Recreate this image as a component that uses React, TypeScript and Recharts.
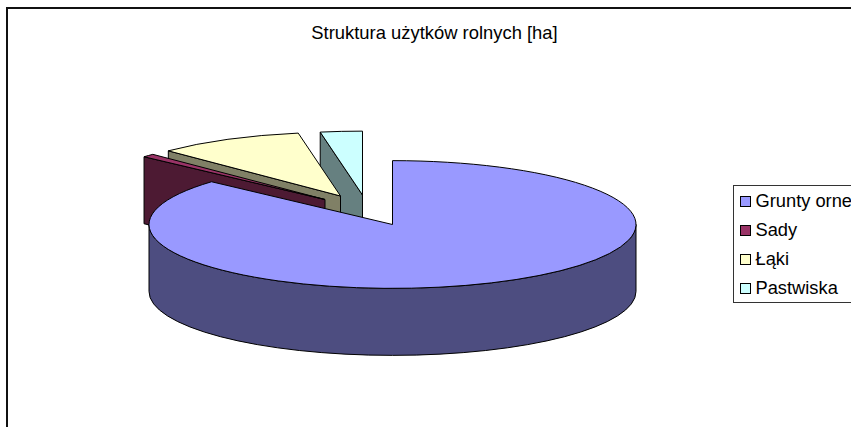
import React from "react";
import { PieChart, Pie, Legend } from "recharts";

const categories = ["Grunty orne", "Sady", "Łąki", "Pastwiska"];
const areas = [312, 3, 35, 10];
const topColors = ["#9999FF", "#993366", "#FFFFCC", "#CCFFFF"];
const wallColors = ["#4D4D80", "#4D1A33", "#808066", "#668080"];
// how far each slice is pulled out of the pie, in px
const pullX = [0, -67.5, -52, -30];
const pullY = [0, -25, -28.5, -29.5];

const TILT = 64 / 244;
const DEPTH = 67;

// painted back to front, so the slices run anticlockwise from 12 o'clock
const pieData = categories
  .map((name, i) => ({
    name,
    value: areas[i],
    fill: topColors[i],
    wall: wallColors[i],
    dx: pullX[i],
    dy: pullY[i],
  }))
  .reverse();

const rad = (d: number) => (d * Math.PI) / 180;

const Slice3D = (props: any) => {
  const { cx, cy, outerRadius, startAngle, endAngle, fill, wall, dx, dy } = props;
  const rx = outerRadius;
  const ry = outerRadius * TILT;
  const x0 = cx + dx;
  const y0 = cy + dy;
  // angles clockwise from the top of the pie
  const a = 450 - endAngle;
  const b = 450 - startAngle;
  const pt = (t: number, drop = 0) => ({
    x: x0 + rx * Math.sin(rad(t)),
    y: y0 - ry * Math.cos(rad(t)) + drop,
  });
  const arc = (from: number, to: number, drop = 0, sweep = 1) => {
    const p = pt(to, drop);
    return `A${rx} ${ry} 0 ${Math.abs(to - from) > 180 ? 1 : 0} ${sweep} ${p.x} ${p.y}`;
  };
  const radial = (t: number) => {
    const p = pt(t);
    return `M${x0} ${y0}L${p.x} ${p.y}L${p.x} ${p.y + DEPTH}L${x0} ${y0 + DEPTH}Z`;
  };
  const eps = 0.01;
  const from = Math.max(a, 90);
  const to = Math.min(b, 270);
  const s = pt(a);
  return (
    <g stroke="#000" strokeWidth={1} strokeLinejoin="round">
      {Math.sin(rad(a)) < -eps && <path d={radial(a)} fill={wall} />}
      {Math.sin(rad(b)) > eps && <path d={radial(b)} fill={wall} />}
      {from < to && (
        <path
          d={`M${pt(from).x} ${pt(from).y}${arc(from, to)}L${pt(to, DEPTH).x} ${pt(to, DEPTH).y}${arc(to, from, DEPTH, 0)}Z`}
          fill={wall}
        />
      )}
      <path d={`M${x0} ${y0}L${s.x} ${s.y}${arc(a, b)}Z`} fill={fill} />
    </g>
  );
};

const LegendBox = () => (
  <div
    style={{
      width: 130,
      height: 118,
      boxSizing: "border-box",
      border: "1.5px solid #333",
      background: "#fff",
      position: "relative",
    }}
  >
    {categories.map((name, i) => (
      <div
        key={name}
        style={{
          position: "absolute",
          left: 5.5,
          top: 0.5 + i * 29,
          height: 29,
          display: "flex",
          alignItems: "center",
          fontFamily: "'Liberation Sans', Arial, sans-serif",
          fontSize: 18.3,
          color: "#000",
          whiteSpace: "nowrap",
        }}
      >
        <span
          style={{
            width: 9,
            height: 9,
            marginRight: 5,
            border: "1px solid #000",
            background: topColors[i],
            display: "inline-block",
          }}
        />
        {name}
      </div>
    ))}
  </div>
);

export default function App() {
  return (
    <div style={{ position: "absolute", left: 0, top: 0, width: 851, height: 427, overflow: "hidden", background: "#fff" }}>
      <div
        style={{
          position: "absolute",
          left: 6,
          top: 7,
          width: 860,
          height: 440,
          borderTop: "2px solid #111",
          borderLeft: "2px solid #111",
        }}
      />
      <PieChart
        width={851}
        height={427}
        margin={{ top: 0, right: 0, bottom: 0, left: 0 }}
        style={{ position: "absolute", left: 0, top: 0 }}
      >
        <text
          x={434.5}
          y={38.5}
          textAnchor="middle"
          fontFamily="'Liberation Sans', Arial, sans-serif"
          fontSize={18.4}
          fill="#000"
        >
          Struktura użytków rolnych [ha]
        </text>
        <Pie
          data={pieData}
          dataKey="value"
          nameKey="name"
          cx={392.5}
          cy={224.5}
          outerRadius={243.5}
          startAngle={90}
          endAngle={450}
          shape={Slice3D}
          isAnimationActive={false}
        />
        <Legend
          content={<LegendBox />}
          layout="vertical"
          wrapperStyle={{ left: 733, top: 185, width: 130, bottom: "auto", right: "auto" }}
        />
      </PieChart>
    </div>
  );
}
